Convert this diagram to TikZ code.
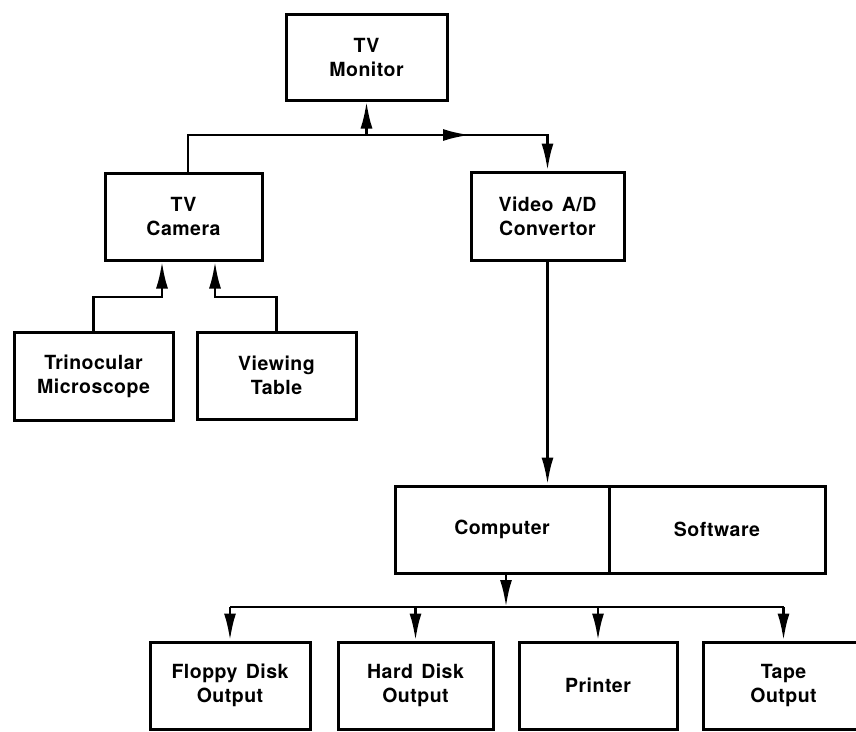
\documentclass[tikz,border=0pt]{standalone}
\usepackage{fontspec}
\setmainfont{TeX Gyre Heros}[LetterSpace=2.5, WordSpace=1.4]
\usetikzlibrary{arrows.meta}
\tikzset{
  box/.style={draw, line width=3pt, align=center, inner sep=0pt,
    font=\bfseries\fontsize{19.5}{24}\selectfont},
  conn/.style={line width=2.8pt, line join=miter},
  arr/.style={conn, -{Latex[length=27pt,width=12pt]}},
}
\newcommand\mybox[6]{\node[box, minimum width={#4-#2}, minimum height={#5-#3}] (#1) at ({(#2+#4)/2},{(#3+#5)/2}) {#6};}
\begin{document}
\begin{tikzpicture}[x=1pt,y=-1pt]
\fill[white] (0,0) rectangle (856,731);
\useasboundingbox (0,0) rectangle (856,731);
\mybox{tvm}{286}{14}{447}{100}{TV\\Monitor}
\mybox{cam}{105}{173}{262}{260}{TV\\Camera}
\mybox{vad}{471}{172}{624}{260}{Video A/D\\Convertor}
\mybox{tri}{14}{332}{173}{420}{Trinocular\\Microscope}
\mybox{vt}{197}{332}{356}{419}{Viewing\\Table}
\mybox{comp}{395}{486}{609}{573}{Computer}
\mybox{soft}{609}{486}{825}{573}{Software}
\mybox{fl}{150}{642}{310}{729}{Floppy Disk\\Output}
\mybox{hd}{338}{642}{493}{729}{Hard Disk\\Output}
\mybox{pr}{519}{642}{677}{729}{Printer}
\mybox{tp}{703}{642}{864}{729}{Tape\\Output}
% top junctions
\coordinate (j1) at (188,135);
\coordinate (ma) at (437,135);
\coordinate (mb) at (470,135);
\draw[arr] (cam.north -| j1) -- (j1) -| (vad.north);
\draw[arr] (tvm.south |- j1) -- (tvm.south);
\draw[arr] (ma) -- (mb);
% camera inputs
\coordinate (j3) at (162,297);
\coordinate (j4) at (215,297);
\draw[arr] (tri.north) |- (j3) -- (j3 |- cam.south);
\draw[arr] (vt.north) |- (j4) -- (j4 |- cam.south);
% A/D to computer
\draw[arr] (vad.south) -- (vad.south |- comp.north);
% outputs
\coordinate (j5) at (506,607);
\draw[arr] (j5 |- comp.south) -- (j5);
\draw[conn] (fl.north |- j5) -- (tp.north |- j5);
\foreach \n in {fl,hd,pr,tp}{
  \draw[arr] (\n.north |- j5) -- (\n.north);
}
\end{tikzpicture}
\end{document}
